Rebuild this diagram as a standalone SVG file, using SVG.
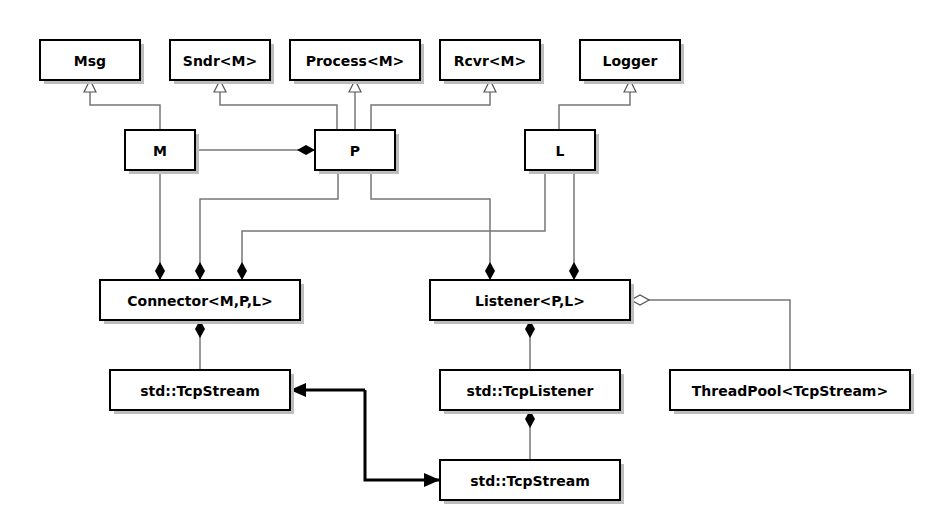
<svg xmlns="http://www.w3.org/2000/svg" width="930" height="520" viewBox="0 0 930 520">
<defs>
<style>
.box rect.b{fill:#fff;stroke:#000;stroke-width:2}
.box rect.s{fill:#bdbdbd}
.box text{font-family:"DejaVu Sans",Verdana,sans-serif;font-weight:bold;font-size:14px;text-anchor:middle;fill:#000}
.c{fill:none;stroke:#777;stroke-width:1.5}
.t{fill:none;stroke:#000;stroke-width:3}
</style>
<marker id="tri" viewBox="0 0 14 14" refX="13" refY="7" markerWidth="14" markerHeight="14" markerUnits="userSpaceOnUse" orient="auto"><path d="M1,1 L13,7 L1,13 Z" fill="#fff" stroke="#555" stroke-width="1.2"/></marker>
<marker id="dia" viewBox="0 0 20 12" refX="19" refY="6" markerWidth="20" markerHeight="12" markerUnits="userSpaceOnUse" orient="auto"><path d="M1,6 L10,1 L19,6 L10,11 Z" fill="#000"/></marker>
<marker id="odia" viewBox="0 0 20 12" refX="19" refY="6" markerWidth="20" markerHeight="12" markerUnits="userSpaceOnUse" orient="auto"><path d="M1,6 L10,1 L19,6 L10,11 Z" fill="#fff" stroke="#555" stroke-width="1.2"/></marker>
<marker id="arr" viewBox="0 0 16 14" refX="15" refY="7" markerWidth="16" markerHeight="14" markerUnits="userSpaceOnUse" orient="auto"><path d="M0,0 L16,7 L0,14 Z" fill="#000"/></marker>
</defs>
<rect width="930" height="520" fill="#fff"/>
<g id="connectors">
<path class="c" d="M160,130 V105 H90 V80" marker-end="url(#tri)"/>
<path class="c" d="M337,130 V105 H220 V80" marker-end="url(#tri)"/>
<path class="c" d="M355,130 V80" marker-end="url(#tri)"/>
<path class="c" d="M371,130 V105 H490 V80" marker-end="url(#tri)"/>
<path class="c" d="M559,130 V105 H630 V80" marker-end="url(#tri)"/>
<path class="c" d="M195,150 H315" marker-end="url(#dia)"/>
<path class="c" d="M160,170 V280" marker-end="url(#dia)"/>
<path class="c" d="M338,170 V199 H200 V280" marker-end="url(#dia)"/>
<path class="c" d="M545,170 V231 H242 V280" marker-end="url(#dia)"/>
<path class="c" d="M371,170 V199 H490 V280" marker-end="url(#dia)"/>
<path class="c" d="M574,170 V280" marker-end="url(#dia)"/>
<path class="c" d="M790,370 V300 H631" marker-end="url(#odia)"/>
<path class="c" d="M200,370 V320" marker-end="url(#dia)"/>
<path class="c" d="M530,370 V320" marker-end="url(#dia)"/>
<path class="c" d="M530,460 V410" marker-end="url(#dia)"/>
<path class="t" d="M365,390 H291" marker-end="url(#arr)"/>
<path class="t" d="M365,390 V480 H439" marker-end="url(#arr)"/>
</g>
<g id="Msg" class="box"><rect class="s" x="44" y="44" width="100" height="40"/><rect class="b" x="40" y="40" width="100" height="40"/><text x="90" y="66">Msg</text></g>
<g id="Sndr" class="box"><rect class="s" x="174" y="44" width="100" height="40"/><rect class="b" x="170" y="40" width="100" height="40"/><text x="220" y="66">Sndr&lt;M&gt;</text></g>
<g id="Process" class="box"><rect class="s" x="294" y="44" width="130" height="40"/><rect class="b" x="290" y="40" width="130" height="40"/><text x="355" y="66">Process&lt;M&gt;</text></g>
<g id="Rcvr" class="box"><rect class="s" x="444" y="44" width="100" height="40"/><rect class="b" x="440" y="40" width="100" height="40"/><text x="490" y="66">Rcvr&lt;M&gt;</text></g>
<g id="Logger" class="box"><rect class="s" x="584" y="44" width="100" height="40"/><rect class="b" x="580" y="40" width="100" height="40"/><text x="630" y="66">Logger</text></g>
<g id="M" class="box"><rect class="s" x="129" y="134" width="70" height="40"/><rect class="b" x="125" y="130" width="70" height="40"/><text x="160" y="156">M</text></g>
<g id="P" class="box"><rect class="s" x="319" y="134" width="80" height="40"/><rect class="b" x="315" y="130" width="80" height="40"/><text x="355" y="156">P</text></g>
<g id="L" class="box"><rect class="s" x="529" y="134" width="70" height="40"/><rect class="b" x="525" y="130" width="70" height="40"/><text x="560" y="156">L</text></g>
<g id="Connector" class="box"><rect class="s" x="104" y="284" width="200" height="40"/><rect class="b" x="100" y="280" width="200" height="40"/><text x="200" y="306">Connector&lt;M,P,L&gt;</text></g>
<g id="Listener" class="box"><rect class="s" x="434" y="284" width="200" height="40"/><rect class="b" x="430" y="280" width="200" height="40"/><text x="530" y="306">Listener&lt;P,L&gt;</text></g>
<g id="TcpStream1" class="box"><rect class="s" x="114" y="374" width="180" height="40"/><rect class="b" x="110" y="370" width="180" height="40"/><text x="200" y="396">std::TcpStream</text></g>
<g id="TcpListener" class="box"><rect class="s" x="444" y="374" width="180" height="40"/><rect class="b" x="440" y="370" width="180" height="40"/><text x="530" y="396">std::TcpListener</text></g>
<g id="ThreadPool" class="box"><rect class="s" x="674" y="374" width="240" height="40"/><rect class="b" x="670" y="370" width="240" height="40"/><text x="790" y="396">ThreadPool&lt;TcpStream&gt;</text></g>
<g id="TcpStream2" class="box"><rect class="s" x="444" y="464" width="180" height="40"/><rect class="b" x="440" y="460" width="180" height="40"/><text x="530" y="486">std::TcpStream</text></g>
</svg>
